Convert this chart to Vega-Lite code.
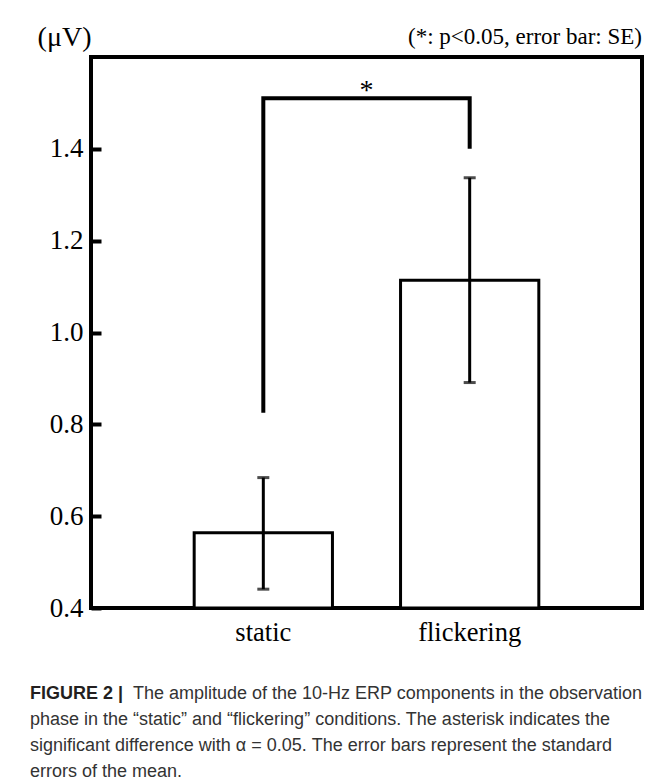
{
  "$schema": "https://vega.github.io/schema/vega-lite/v6.json",
  "background": "white",
  "padding": {"left": 30, "top": 21, "right": -37, "bottom": 0},
  "config": {"font": "Liberation Serif", "view": {"stroke": null}},
  "datasets": {
    "bars": [
      {"cond": "static", "mean": 0.564, "lo": 0.441, "hi": 0.684},
      {"cond": "flickering", "mean": 1.114, "lo": 0.891, "hi": 1.337}
    ],
    "bracket": [
      {"cond": "static", "v": 0.825, "ord": 0},
      {"cond": "static", "v": 1.51, "ord": 1},
      {"cond": "flickering", "v": 1.51, "ord": 2},
      {"cond": "flickering", "v": 1.4, "ord": 3}
    ],
    "star": [{"cond": "static", "v": 1.51, "t": "*"}],
    "caption": [
      {"line": 1, "part": "label", "text": "FIGURE 2 |"},
      {"line": 1, "part": "first", "text": "The amplitude of the 10-Hz ERP components in the observation"},
      {"line": 2, "part": "body", "text": "phase in the “static” and “flickering” conditions. The asterisk indicates the"},
      {"line": 3, "part": "body", "text": "significant difference with α = 0.05. The error bars represent the standard"},
      {"line": 4, "part": "body", "text": "errors of the mean."}
    ]
  },
  "center": true,
  "spacing": 33,
  "vconcat": [
    {
      "width": 551,
      "height": 551,
      "view": {"stroke": "black", "strokeWidth": 4},
      "title": {
        "text": "(*: p<0.05, error bar: SE)",
        "anchor": "end",
        "baseline": "alphabetic",
        "font": "Liberation Serif",
        "fontSize": 23,
        "fontWeight": "normal",
        "color": "black",
        "offset": -44
      },
      "encoding": {
        "x": {
          "field": "cond",
          "type": "nominal",
          "sort": ["static", "flickering"],
          "scale": {"paddingInner": 0.33, "paddingOuter": 0.5},
          "axis": {
            "title": null,
            "ticks": false,
            "domain": false,
            "labelAngle": 0,
            "labelFont": "Liberation Serif",
            "labelFontSize": 26.5,
            "labelColor": "black",
            "labelPadding": 11
          }
        }
      },
      "layer": [
        {
          "data": {"name": "bars"},
          "mark": {"type": "bar", "fill": "white", "stroke": "black", "strokeWidth": 3},
          "encoding": {
            "y": {
              "field": "mean",
              "type": "quantitative",
              "scale": {"domain": [0.4, 1.6], "nice": false, "zero": false},
              "axis": {
                "title": "(μV)",
                "values": [0.4, 0.6, 0.8, 1.0, 1.2, 1.4],
                "format": ".1f",
                "grid": false,
                "domain": false,
                "tickSize": -10,
                "tickWidth": 4,
                "tickColor": "black",
                "labelFont": "Liberation Serif",
                "labelFontSize": 27,
                "labelColor": "black",
                "labelPadding": 18,
                "labelFlush": false,
                "titleAngle": 0,
                "titleAlign": "right",
                "titleBaseline": "alphabetic",
                "titleX": 0,
                "titleY": -12,
                "titleFont": "Liberation Serif",
                "titleFontSize": 28,
                "titleFontWeight": "normal",
                "titleColor": "black"
              }
            },
            "y2": {"datum": 0.4}
          }
        },
        {
          "data": {"name": "bars"},
          "mark": {"type": "rule", "color": "black", "strokeWidth": 3},
          "encoding": {
            "y": {"field": "lo", "type": "quantitative"},
            "y2": {"field": "hi"}
          }
        },
        {
          "data": {"name": "bars"},
          "mark": {"type": "tick", "color": "black", "size": 12, "thickness": 3, "orient": "horizontal"},
          "encoding": {"y": {"field": "lo", "type": "quantitative"}}
        },
        {
          "data": {"name": "bars"},
          "mark": {"type": "tick", "color": "black", "size": 12, "thickness": 3, "orient": "horizontal"},
          "encoding": {"y": {"field": "hi", "type": "quantitative"}}
        },
        {
          "data": {"name": "bracket"},
          "mark": {"type": "line", "color": "black", "strokeWidth": 4, "strokeJoin": "miter", "strokeCap": "butt"},
          "encoding": {
            "y": {"field": "v", "type": "quantitative"},
            "order": {"field": "ord", "type": "quantitative"}
          }
        },
        {
          "data": {"name": "star"},
          "mark": {"type": "text", "font": "Liberation Serif", "fontSize": 28, "color": "black", "baseline": "alphabetic", "align": "center", "dy": 1},
          "encoding": {
            "x": {"field": "cond", "type": "nominal", "sort": ["static", "flickering"], "bandPosition": 1.246},
            "y": {"field": "v", "type": "quantitative"},
            "text": {"field": "t"}
          }
        }
      ]
    },
    {
      "width": 675,
      "height": 104,
      "data": {"name": "caption"},
      "encoding": {
        "y": {"field": "line", "type": "ordinal", "axis": null},
        "text": {"field": "text"}
      },
      "layer": [
        {
          "transform": [{"filter": "datum.part === 'label'"}],
          "mark": {"type": "text", "align": "left", "baseline": "middle", "font": "Liberation Sans", "fontSize": 18, "fontWeight": "bold", "color": "#231f20"},
          "encoding": {"x": {"value": 0}}
        },
        {
          "transform": [{"filter": "datum.part === 'first'"}],
          "mark": {"type": "text", "align": "left", "baseline": "middle", "font": "Liberation Sans", "fontSize": 18, "color": "#333333", "dx": 103},
          "encoding": {"x": {"value": 0}}
        },
        {
          "transform": [{"filter": "datum.part === 'body'"}],
          "mark": {"type": "text", "align": "left", "baseline": "middle", "font": "Liberation Sans", "fontSize": 18, "color": "#333333"},
          "encoding": {"x": {"value": 0}}
        }
      ]
    }
  ]
}
